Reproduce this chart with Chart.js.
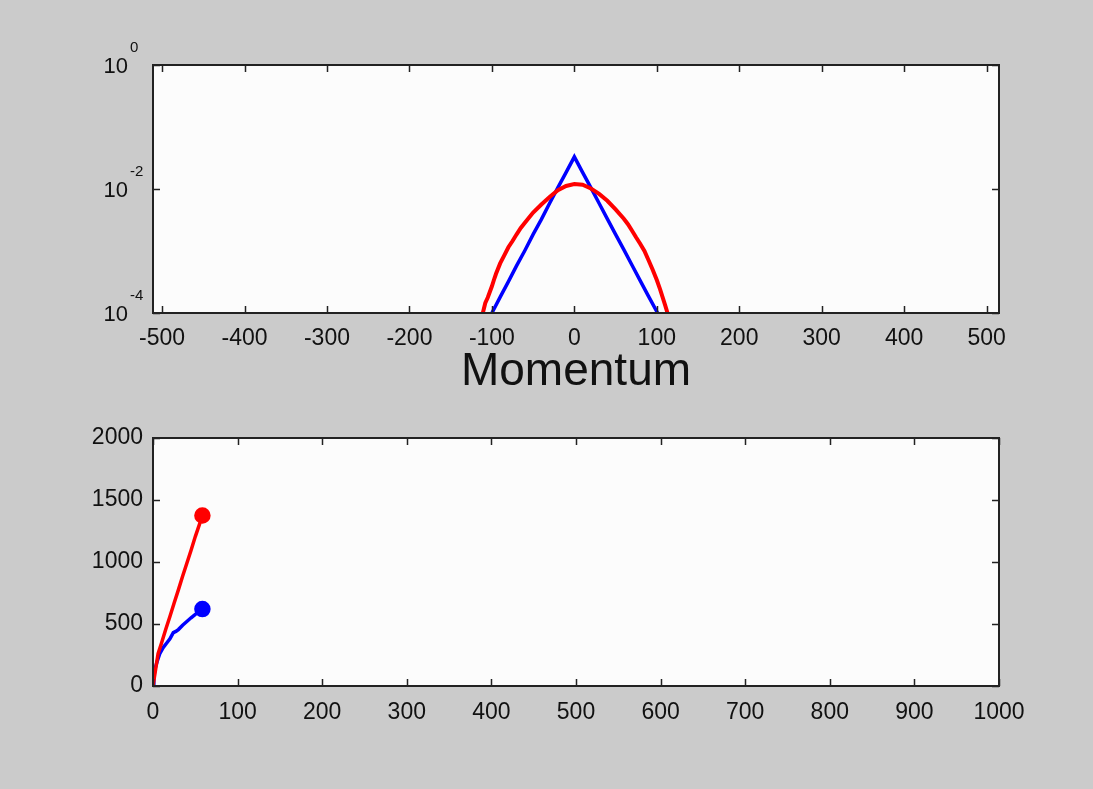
<!DOCTYPE html>
<html>
<head>
<meta charset="utf-8">
<script src="https://cdn.jsdelivr.net/npm/chart.js@4.4.0/dist/chart.umd.min.js"></script>
<style>
  body { margin: 0; background: #cbcbcb; width: 1093px; height: 789px; overflow: hidden; position: relative; }
  canvas { position: absolute; left: 0; }
  #topChart { top: 0; }
  #botChart { top: 400px; }
</style>
</head>
<body>
<canvas id="topChart" width="1093" height="400"></canvas>
<canvas id="botChart" width="1093" height="389"></canvas>
<script>
// top panel: momentum distributions (log y)
const redMomentum = [-111, -108, -105, -100, -97, -95, -90, -85, -80, -75, -70, -65, -60, -50, -40, -30, -20, -10, 0, 10, 20, 30, 40, 50, 60, 65, 70, 75, 80, 85, 90, 95, 100, 104, 107, 110, 113];
const redDensity = [1.0e-4, 1.45e-4, 1.78e-4, 2.7e-4, 3.6e-4, 4.3e-4, 6.3e-4, 8.5e-4, 1.15e-3, 1.45e-3, 1.86e-3, 2.35e-3, 2.85e-3, 4.17e-3, 5.62e-3, 7.41e-3, 9.55e-3, 1.12e-2, 1.20e-2, 1.17e-2, 1.02e-2, 8.32e-3, 6.46e-3, 4.68e-3, 3.31e-3, 2.7e-3, 2.12e-3, 1.65e-3, 1.3e-3, 1.0e-3, 7.1e-4, 5.0e-4, 3.4e-4, 2.4e-4, 1.8e-4, 1.35e-4, 1.0e-4];
const blueMomentum = [-100, -90, -80, -70, -60, -50, -40, -30, -20, -10, 0, 10, 20, 30, 40, 50, 60, 70, 80, 90, 101];
const blueDensity = [1.0e-4, 1.8e-4, 3.2e-4, 5.8e-4, 1.02e-3, 1.85e-3, 3.24e-3, 5.9e-3, 1.05e-2, 1.85e-2, 3.3e-2, 1.85e-2, 1.05e-2, 5.9e-3, 3.3e-3, 1.85e-3, 1.05e-3, 5.9e-4, 3.3e-4, 1.85e-4, 1.0e-4];
const topXTicks = [-500, -400, -300, -200, -100, 0, 100, 200, 300, 400, 500];
const topYTicks = [1e-4, 1e-2, 1];

// bottom panel: growth curves
const redTime = [0, 3, 6, 10, 15, 20, 25, 30, 35, 40, 45, 50, 55, 58.4];
const redValue = [0, 130, 260, 345, 455, 560, 670, 775, 885, 990, 1095, 1205, 1305, 1375];
const blueTime = [0, 1, 2, 5, 8, 12, 16, 20, 24, 27, 30, 35, 40, 45, 50, 55, 58.4];
const blueValue = [0, 60, 130, 200, 260, 310, 345, 380, 430, 440, 455, 490, 520, 550, 578, 600, 620];
const botXTicks = [0, 100, 200, 300, 400, 500, 600, 700, 800, 900, 1000];
const botYTicks = [0, 500, 1000, 1500, 2000];

const tickFont = { family: 'Liberation Sans', size: 23 };
const axisColor = '#222';

function pts(xs, ys) {
  return xs.map((x, i) => ({ x: x, y: ys[i] }));
}

// matlab style box with inward ticks
const framePlugin = {
  id: 'frame',
  beforeDraw(chart) {
    const a = chart.chartArea, c = chart.ctx;
    c.save();
    c.fillStyle = '#fcfcfc';
    c.fillRect(a.left, a.top, a.right - a.left, a.bottom - a.top);
    c.restore();
  },
  afterDraw(chart) {
    const a = chart.chartArea, c = chart.ctx;
    const len = 7;
    c.save();
    c.strokeStyle = axisColor;
    c.lineWidth = 1.5;
    c.beginPath();
    chart.scales.x.ticks.forEach(t => {
      const px = Math.round(chart.scales.x.getPixelForValue(t.value)) + 0.5;
      c.moveTo(px, a.bottom); c.lineTo(px, a.bottom - len);
      c.moveTo(px, a.top); c.lineTo(px, a.top + len);
    });
    chart.scales.y.ticks.forEach(t => {
      const py = Math.round(chart.scales.y.getPixelForValue(t.value)) + 0.5;
      c.moveTo(a.left, py); c.lineTo(a.left + len, py);
      c.moveTo(a.right, py); c.lineTo(a.right - len, py);
    });
    c.stroke();
    c.lineWidth = 2;
    c.strokeRect(a.left, a.top, a.right - a.left, a.bottom - a.top);
    c.restore();
  }
};

// 10^n labels for the log axis
const powerLabels = {
  id: 'powerLabels',
  afterDraw(chart) {
    if (chart.canvas.id !== 'topChart') return;
    const c = chart.ctx, y = chart.scales.y;
    c.save();
    c.fillStyle = '#111';
    y.ticks.forEach(t => {
      const py = y.getPixelForValue(t.value);
      const e = Math.round(Math.log10(t.value));
      c.font = '22px "Liberation Sans"';
      c.textAlign = 'right';
      c.textBaseline = 'alphabetic';
      c.fillText('10', 128, py + 8);
      c.font = '15px "Liberation Sans"';
      c.textAlign = 'left';
      c.fillText(String(e), 130, py - 13);
    });
    c.restore();
  }
};

const lineDs = (data, color, width) => ({
  data: data,
  borderColor: color,
  backgroundColor: color,
  borderWidth: width,
  fill: false,
  tension: 0,
  pointRadius: 0
});

const plain = v => String(v);

new Chart(document.getElementById('topChart'), {
  type: 'line',
  data: {
    datasets: [
      lineDs(pts(redMomentum, redDensity), '#ff0000', 4),
      lineDs(pts(blueMomentum, blueDensity), '#0000ff', 3.5)
    ]
  },
  options: {
    responsive: false,
    animation: false,
    layout: { padding: { top: 65, right: 94, left: 0, bottom: 0 } },
    plugins: { legend: { display: false }, tooltip: { enabled: false } },
    scales: {
      x: {
        type: 'linear',
        min: -511,
        max: 515,
        afterBuildTicks: s => { s.ticks = topXTicks.map(v => ({ value: v })); },
        afterFit: s => { s.height = 87; },
        grid: { display: false, drawTicks: false },
        border: { display: false },
        ticks: { font: tickFont, color: '#111', padding: 12, maxRotation: 0, autoSkip: false, callback: plain },
        title: { display: true, text: 'Momentum', font: { family: 'Liberation Sans', size: 46 }, color: '#111', padding: { top: 0, bottom: 0 } }
      },
      y: {
        type: 'logarithmic',
        min: 1e-4,
        max: 1,
        afterBuildTicks: s => { s.ticks = topYTicks.map(v => ({ value: v })); },
        afterFit: s => { s.width = 153; },
        grid: { display: false, drawTicks: false },
        border: { display: false },
        ticks: { display: false }
      }
    }
  },
  plugins: [framePlugin, powerLabels]
});

const botDs = (data, color) => {
  const d = lineDs(data, color, 3.5);
  d.pointRadius = ctx => ctx.dataIndex === data.length - 1 ? 6.5 : 0;
  return d;
};

new Chart(document.getElementById('botChart'), {
  type: 'line',
  data: {
    datasets: [
      botDs(pts(redTime, redValue), '#ff0000'),
      botDs(pts(blueTime, blueValue), '#0000ff')
    ]
  },
  options: {
    responsive: false,
    animation: false,
    layout: { padding: { top: 38, right: 94, left: 0, bottom: 0 } },
    plugins: { legend: { display: false }, tooltip: { enabled: false } },
    scales: {
      x: {
        type: 'linear',
        min: 0,
        max: 1000,
        afterBuildTicks: s => { s.ticks = botXTicks.map(v => ({ value: v })); },
        afterFit: s => { s.height = 103; },
        grid: { display: false, drawTicks: false },
        border: { display: false },
        ticks: { font: tickFont, color: '#111', padding: 13, maxRotation: 0, autoSkip: false, callback: plain }
      },
      y: {
        type: 'linear',
        min: 0,
        max: 2000,
        afterBuildTicks: s => { s.ticks = botYTicks.map(v => ({ value: v })); },
        afterFit: s => { s.width = 153; },
        grid: { display: false, drawTicks: false },
        border: { display: false },
        ticks: { font: tickFont, color: '#111', padding: 10, callback: plain }
      }
    }
  },
  plugins: [framePlugin]
});
</script>
</body>
</html>
